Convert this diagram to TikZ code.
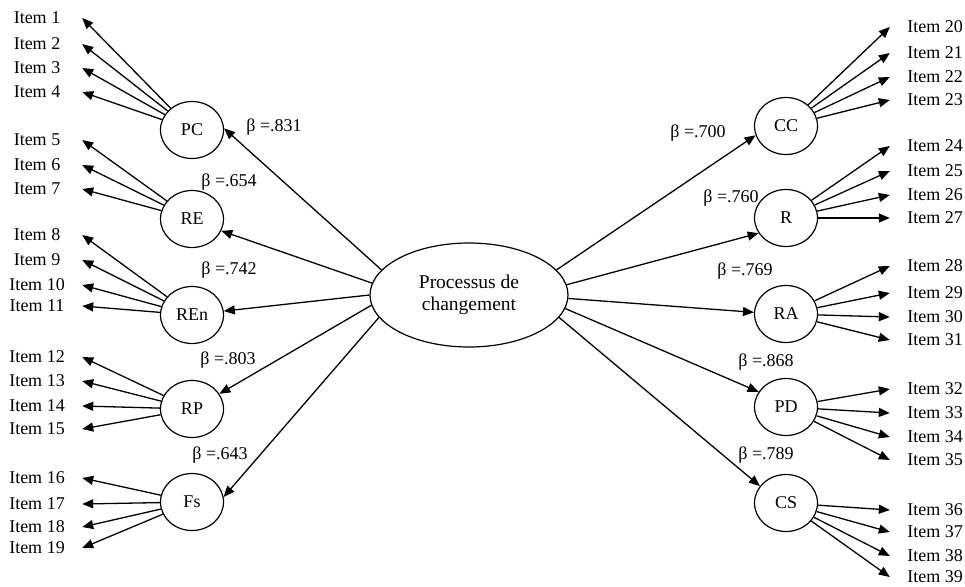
\documentclass[tikz,border=0pt]{standalone}
\usepackage{fontspec}
\setmainfont{Liberation Serif}
\usetikzlibrary{arrows.meta,shapes.geometric}

\begin{document}
\begin{tikzpicture}[x=1pt,y=-1pt,>={Triangle[length=11pt,width=9pt]},
    every node/.style={font=\fontsize{18}{21}\selectfont},
    factor/.style={draw,ellipse,line width=1.2pt,minimum width=63pt,minimum height=57pt,inner sep=0pt},
    item/.style={minimum width=90pt,inner sep=0pt},
    link/.style={->,line width=1.3pt}]
    \useasboundingbox (0,0) rectangle (965,586);

    \node[draw,ellipse,line width=1.2pt,minimum width=198pt,minimum height=104pt,align=center,
      font=\fontsize{19.5}{22}\selectfont] (proc) at (469,295) {Processus de\\changement};

    % left factors
    \node[factor] (PC) at (192,130) {PC};
    \node[factor] (RE) at (192,219) {RE};
    \node[factor] (REn) at (192,315) {REn};
    \node[factor] (RP) at (192,409) {RP};
    \node[factor] (Fs) at (192,502) {Fs};
    % right factors
    \node[factor] (CC) at (786,126) {CC};
    \node[factor] (R) at (786,218) {R};
    \node[factor] (RA) at (786,314) {RA};
    \node[factor] (PD) at (786,407) {PD};
    \node[factor] (CS) at (786,503) {CS};

    % items
    \foreach \y [count=\i] in {18,44,68,92,140,165,189,235,260,285,306,357,381,406,429,478,504,527,548}
      \node[item] (i\i) at (37,\y) {Item \i};
    \foreach \y [count=\i from 20] in {27,53,77,100,146,171,195,218,266,293,317,340,389,413,437,460,510,532,556,577}
      \node[item] (i\i) at (935,\y) {Item \i};

    \foreach \f/\list in {PC/{1,2,3,4},RE/{5,6,7},REn/{8,9,10,11},RP/{12,13,14,15},Fs/{16,17,18,19}}
      \foreach \i in \list \path[link] (\f) edge (i\i.east);
    \foreach \f/\list in {CC/{20,21,22,23},R/{24,25,26,27},RA/{28,29,30,31},PD/{32,33,34,35},CS/{36,37,38,39}}
      \foreach \i in \list \path[link] (\f) edge (i\i.west);

    \path[link]
    (proc.164) edge (PC.3)
    (proc.173) edge (RE.-22)
    (proc.180) edge (REn.7)
    (proc.186) edge (RP.29)
    (proc.194) edge (Fs.9)
    (proc.16) edge (CC.197)
    (proc.6) edge (R.209)
    (proc.-2) edge (RA.177)
    (proc.-8) edge (PD.151)
    (proc.-14) edge (CS.147)
    ;

    \node (b1) at (274,127) {β =.831};
    \node (b2) at (229,182) {β =.654};
    \node (b3) at (229,270) {β =.742};
    \node (b4) at (228,360) {β =.803};
    \node (b5) at (220,455) {β =.643};
    \node (b6) at (698,133) {β =.700};
    \node (b7) at (731,198) {β =.760};
    \node (b8) at (745,271) {β =.769};
    \node (b9) at (766,362) {β =.868};
    \node (b10) at (766,455) {β =.789};
\end{tikzpicture}
\end{document}
